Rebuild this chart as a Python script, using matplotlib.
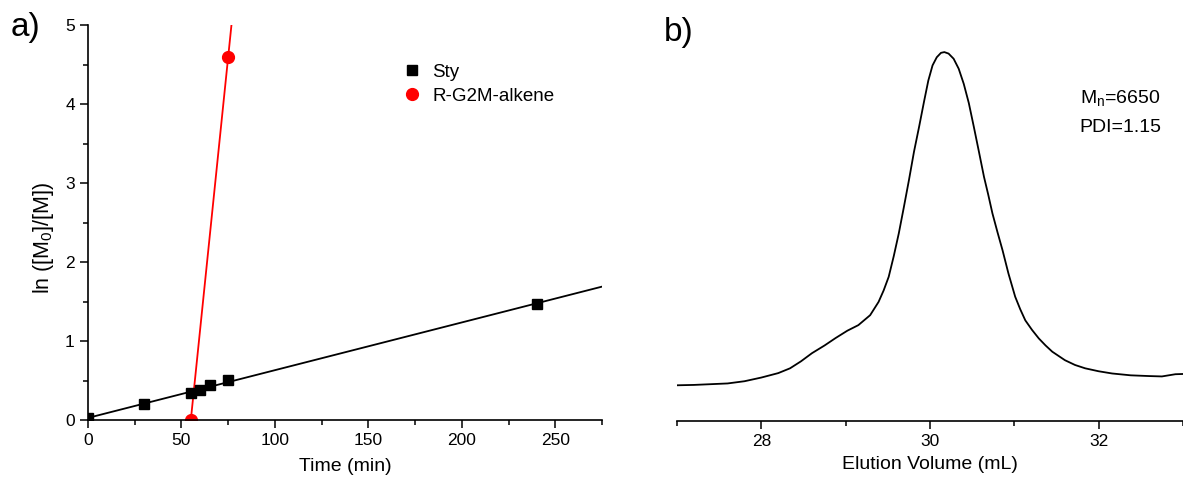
import numpy as np
import matplotlib
matplotlib.use("Agg")
from matplotlib import pyplot as plt
from matplotlib.ticker import MultipleLocator

plt.rcParams["font.family"] = ["Liberation Sans", "DejaVu Sans"]
plt.rcParams["mathtext.fontset"] = "custom"
plt.rcParams["mathtext.rm"] = "Liberation Sans"
plt.rcParams["mathtext.it"] = "Liberation Sans"

# kinetics: ln([M0]/[M]) vs time
sty_t = [0, 30, 55, 60, 65, 75, 240]
sty_ln = [0.02, 0.20, 0.34, 0.38, 0.44, 0.51, 1.47]
alk_t = [55, 75]
alk_ln = [0.0, 4.60]

# GPC trace, normalised detector response
gpc_vol = [27.0, 27.2, 27.4, 27.6, 27.8, 28.0, 28.2, 28.34, 28.47, 28.6, 28.75, 28.88,
           29.02, 29.15, 29.29, 29.39, 29.45, 29.51, 29.57, 29.63, 29.69, 29.75,
           29.81, 29.87, 29.93, 29.98, 30.03, 30.08, 30.13, 30.17, 30.22, 30.28,
           30.34, 30.40, 30.46, 30.52, 30.58, 30.64, 30.69, 30.74, 30.80, 30.86,
           30.93, 31.01, 31.07, 31.13, 31.21, 31.29, 31.37, 31.45, 31.60, 31.72,
           31.84, 32.0, 32.16, 32.38, 32.60, 32.75, 32.91, 33.05]
gpc_sig = [0.097, 0.098, 0.100, 0.102, 0.108, 0.118, 0.130, 0.143, 0.162, 0.184, 0.205, 0.225,
           0.245, 0.260, 0.287, 0.323, 0.354, 0.391, 0.447, 0.509, 0.580, 0.653,
           0.730, 0.797, 0.867, 0.923, 0.964, 0.986, 0.998, 1.000, 0.996, 0.982,
           0.955, 0.914, 0.862, 0.797, 0.730, 0.662, 0.614, 0.563, 0.512, 0.463,
           0.400, 0.337, 0.303, 0.273, 0.247, 0.224, 0.205, 0.188, 0.165, 0.152,
           0.143, 0.135, 0.129, 0.124, 0.122, 0.121, 0.127, 0.128]

fig = plt.figure(figsize=(11.83, 4.84), dpi=100)

# ---- a) kinetic plot ----
ax1 = fig.add_axes([0.0744, 0.1322, 0.4345, 0.816])
p_sty = np.polyfit(sty_t, sty_ln, 1)
p_alk = np.polyfit(alk_t, alk_ln, 1)
xf = np.array([0, 275])
ax1.plot(xf, np.polyval(p_sty, xf), color="black", lw=1.3)
xa = np.array([alk_t[0], (5.2 - p_alk[1]) / p_alk[0]])
ax1.plot(xa, np.polyval(p_alk, xa), color="red", lw=1.3)
ax1.plot(sty_t, sty_ln, "s", color="black", ms=7.5, ls="none", label="Sty")
ax1.plot(alk_t, alk_ln, "o", color="red", ms=8.5, ls="none", label="R-G2M-alkene")

ax1.set_xlim(0, 275)
ax1.set_ylim(0, 5)
ax1.xaxis.set_major_locator(MultipleLocator(50))
ax1.xaxis.set_minor_locator(MultipleLocator(25))
ax1.yaxis.set_major_locator(MultipleLocator(1))
ax1.yaxis.set_minor_locator(MultipleLocator(0.5))
for s in ("top", "right"):
    ax1.spines[s].set_visible(False)
for s in ("left", "bottom"):
    ax1.spines[s].set_linewidth(1.2)
ax1.tick_params(which="major", direction="out", length=6, width=1.1, labelsize=12.5)
ax1.tick_params(which="minor", direction="out", length=3.5, width=1.1)
ax1.set_xlabel("Time (min)", fontsize=14, labelpad=7)
ax1.set_ylabel("ln ([M$_0$]/[M])", fontsize=15.5)
ax1.yaxis.set_label_coords(-0.062, 0.462)
ax1.legend(loc="upper left", bbox_to_anchor=(0.571, 0.945), frameon=False,
           fontsize=13.5, handletextpad=0.32, labelspacing=0.36, handlelength=1.5)

# ---- b) GPC trace ----
ax2 = fig.add_axes([0.5723, 0.130, 0.4277, 0.818])
ax2.plot(gpc_vol, gpc_sig, color="black", lw=1.3)
ax2.set_xlim(27, 33)
ax2.set_ylim(0, 1.073)
ax2.xaxis.set_major_locator(MultipleLocator(2))
ax2.xaxis.set_minor_locator(MultipleLocator(1))
for s in ("top", "right", "left"):
    ax2.spines[s].set_visible(False)
ax2.spines["bottom"].set_linewidth(1.2)
ax2.set_yticks([])
ax2.tick_params(which="major", direction="out", length=6, width=1.1, labelsize=12.5)
ax2.tick_params(which="minor", direction="out", length=3.5, width=1.1)
ax2.set_xlabel("Elution Volume (mL)", fontsize=14, labelpad=5)
ax2.text(0.796, 0.816, "M$_\\mathrm{n}$=6650", transform=ax2.transAxes, fontsize=14, va="center")
ax2.text(0.796, 0.742, "PDI=1.15", transform=ax2.transAxes, fontsize=14, va="center")

fig.text(0.009, 0.944, "a)", fontsize=24, va="center")
fig.text(0.561, 0.932, "b)", fontsize=24, va="center")

plt.savefig("out.png", dpi=100)
